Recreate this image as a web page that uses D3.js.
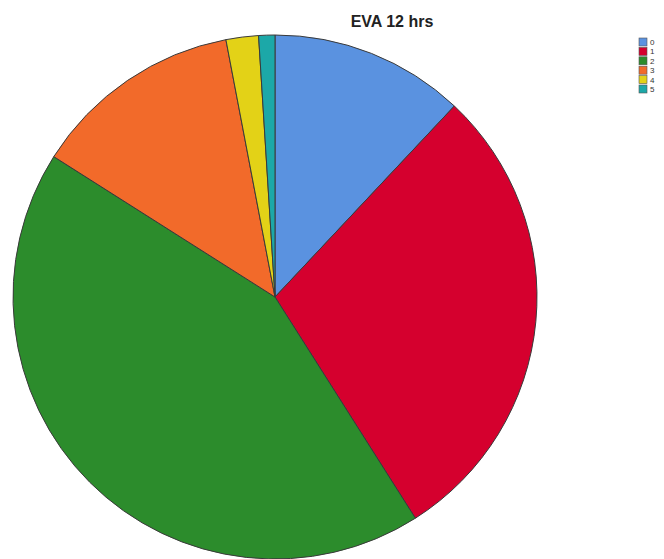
<!DOCTYPE html>
<html><head><meta charset="utf-8">
<script src="https://cdn.jsdelivr.net/npm/d3@7"></script>
<style>body{margin:0;background:#fff}svg{display:block}</style>
</head><body>
<svg id="c" width="664" height="559"></svg>
<script>
const categories = ["0","1","2","3","4","5"];
const values = [12, 29, 43, 13, 2, 1];
const colors = ["#5A92E0","#D5002E","#2C8C2C","#F26A2A","#E3D217","#1CA8A8"];
const title = "EVA 12 hrs";

const svg = d3.select("#c");
const cx = 275, cy = 297, r = 262;
const pie = d3.pie().sort(null).value(d => d.v);
const arc = d3.arc().innerRadius(0).outerRadius(r);
const data = categories.map((c,i)=>({c, v: values[i]}));
const color = d3.scaleOrdinal().domain(categories).range(colors);

svg.append("g").attr("transform",`translate(${cx},${cy})`)
  .selectAll("path").data(pie(data)).join("path")
  .attr("d", arc).attr("fill", d => color(d.data.c))
  .attr("stroke", "#3a3a3a").attr("stroke-width", 1);

svg.append("text").attr("x", 392).attr("y", 27).attr("text-anchor","middle")
  .attr("font-family","Liberation Sans, Arial, sans-serif").attr("font-weight","bold")
  .attr("font-size", 16).attr("fill","#222").text(title);

const lg = svg.append("g").attr("transform","translate(639,38)");
const ly = d3.scaleBand().domain(categories).range([0, categories.length*9.4]);
const items = lg.selectAll("g").data(categories).join("g")
  .attr("transform", d => `translate(0,${ly(d)})`);
items.append("rect").attr("width",8).attr("height",8)
  .attr("fill", d => color(d)).attr("stroke","#555").attr("stroke-width",0.6);
items.append("text").attr("x",11).attr("y",7)
  .attr("font-family","Liberation Sans, Arial, sans-serif").attr("font-size",8)
  .attr("fill","#333").text(d => d);
</script>
</body></html>
